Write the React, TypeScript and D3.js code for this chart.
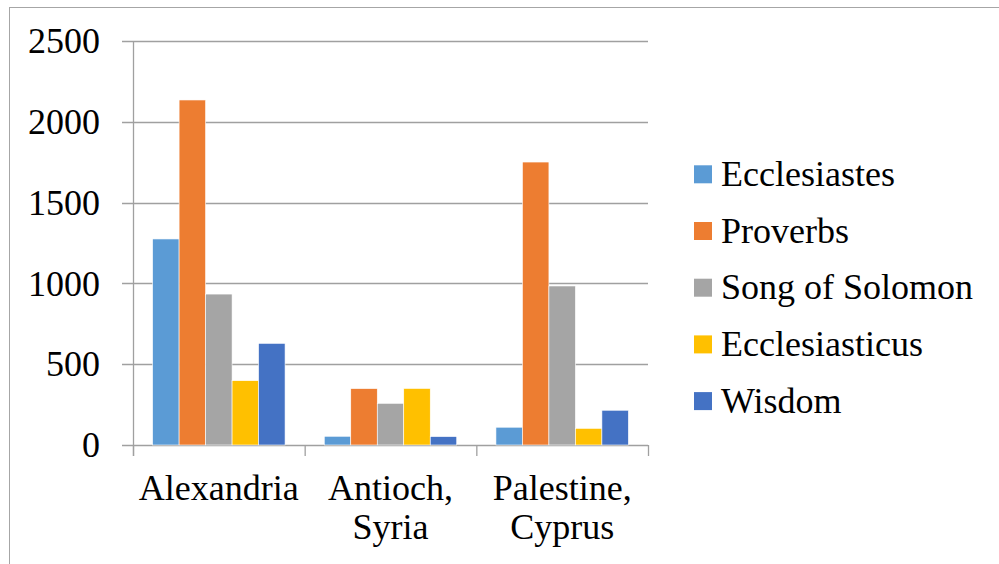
import React, { useEffect, useRef } from 'react';
import * as d3 from 'd3';

const categories = ['Alexandria', 'Antioch, Syria', 'Palestine, Cyprus'];
const categoryLines = [['Alexandria'], ['Antioch,', 'Syria'], ['Palestine,', 'Cyprus']];
const seriesNames = ['Ecclesiastes', 'Proverbs', 'Song of Solomon', 'Ecclesiasticus', 'Wisdom'];
const seriesColors = ['#5B9BD5', '#ED7D31', '#A5A5A5', '#FFC000', '#4472C4'];
const ecclesiastes = [1275, 54, 110];
const proverbs = [2135, 349, 1751];
const songOfSolomon = [934, 258, 984];
const ecclesiasticus = [398, 350, 103];
const wisdom = [629, 52, 215];
const yTicks = [0, 500, 1000, 1500, 2000, 2500];

const seriesValues = [ecclesiastes, proverbs, songOfSolomon, ecclesiasticus, wisdom];

const FONT = "'Liberation Serif'";

const App: React.FC = () => {
  const svgRef = useRef<SVGSVGElement>(null);

  useEffect(() => {
    document.body.style.margin = '0';
    if (!svgRef.current) return;
    const width = 999;
    const height = 564;
    const left = 133, right = 648, top = 41, bottom = 445;
    const gridColor = '#A0A0A0';

    const svg = d3.select(svgRef.current);
    svg.selectAll('*').remove();
    svg.attr('width', width).attr('height', height);

    // outer chart border (runs off the right/bottom edges)
    svg.append('rect')
      .attr('x', 9.5).attr('y', 7.5)
      .attr('width', width + 10).attr('height', height + 10)
      .attr('fill', '#fff').attr('stroke', '#A6A6A6').attr('stroke-width', 1);

    const x0 = d3.scaleBand<string>().domain(categories).range([left, right]);
    const x1 = d3.scaleBand<string>().domain(seriesNames).range([0, x0.bandwidth()]).paddingOuter(0.74);
    const y = d3.scaleLinear().domain([0, 2500]).range([bottom, top]);

    // gridlines + y tick labels
    const g = svg.append('g');
    yTicks.forEach(t => {
      g.append('line')
        .attr('x1', left - 11).attr('x2', right)
        .attr('y1', Math.round(y(t)) + 0.5).attr('y2', Math.round(y(t)) + 0.5)
        .attr('stroke', gridColor).attr('stroke-width', 1.3);
      g.append('text')
        .attr('x', 100).attr('y', y(t))
        .attr('dy', '0.34em')
        .attr('text-anchor', 'end')
        .style('font-family', FONT).style('font-size', '36px')
        .attr('fill', '#000')
        .text(t);
    });

    // y axis line
    g.append('line')
      .attr('x1', left + 0.5).attr('x2', left + 0.5)
      .attr('y1', top).attr('y2', bottom + 11)
      .attr('stroke', gridColor).attr('stroke-width', 1.3);

    // x ticks between categories
    const xBounds = categories.map(c => x0(c) as number).concat([right]);
    xBounds.forEach(xv => {
      g.append('line')
        .attr('x1', xv + 0.5).attr('x2', xv + 0.5)
        .attr('y1', bottom).attr('y2', bottom + 11)
        .attr('stroke', gridColor).attr('stroke-width', 1.3);
    });

    // bars
    seriesNames.forEach((s, si) => {
      svg.append('g').selectAll('rect')
        .data(seriesValues[si])
        .enter()
        .append('rect')
        .attr('x', (d, i) => (x0(categories[i]) as number) + (x1(s) as number))
        .attr('y', d => y(d))
        .attr('width', x1.bandwidth())
        .attr('height', d => y(0) - y(d))
        .attr('fill', seriesColors[si])
        .attr('stroke', '#fff').attr('stroke-width', 0.6);
    });

    // category labels
    categories.forEach((c, i) => {
      const cx = (x0(c) as number) + x0.bandwidth() / 2;
      const t = svg.append('text')
        .attr('text-anchor', 'middle')
        .style('font-family', FONT).style('font-size', '36px')
        .attr('fill', '#000');
      categoryLines[i].forEach((line, li) => {
        t.append('tspan').attr('x', cx).attr('y', 500 + li * 39).text(line);
      });
    });

    // legend
    const lg = svg.append('g');
    seriesNames.forEach((s, i) => {
      const cy = 174.3 + i * 56.7;
      lg.append('rect')
        .attr('x', 694).attr('y', cy - 9)
        .attr('width', 18).attr('height', 18)
        .attr('fill', seriesColors[i]);
      lg.append('text')
        .attr('x', 721).attr('y', cy)
        .attr('dy', '0.32em')
        .style('font-family', FONT).style('font-size', '36px')
        .attr('fill', '#000')
        .text(s);
    });
  }, []);

  return <svg ref={svgRef} style={{ display: 'block' }} />;
};

export default App;
